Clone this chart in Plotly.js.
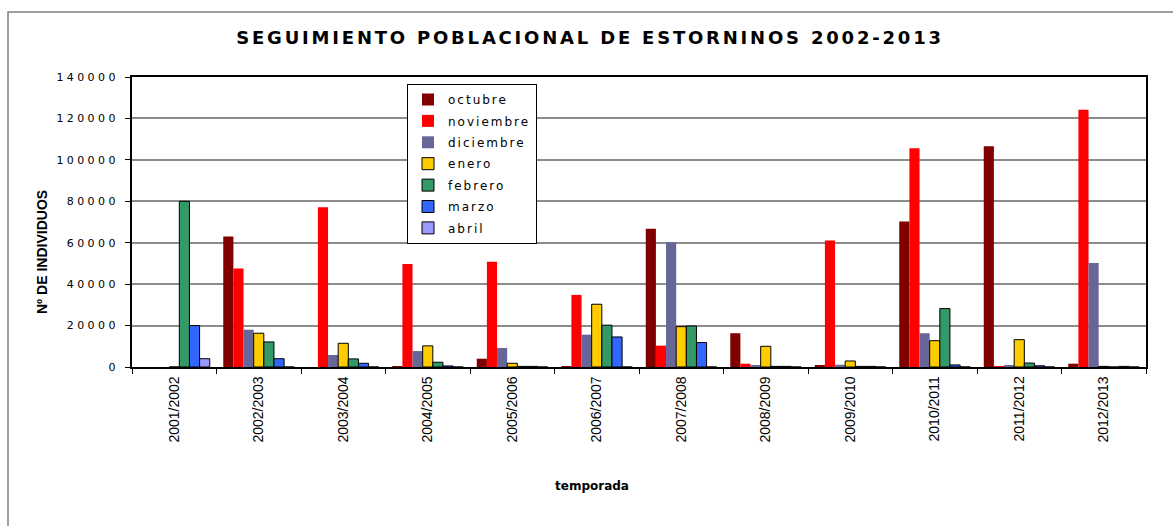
<!DOCTYPE html>
<html>
<head>
<meta charset="utf-8">
<script src="https://cdn.plot.ly/plotly-3.0.1.min.js"></script>
<style>
  html, body { margin: 0; padding: 0; background: #fff; }
  #chart { width: 1173px; height: 526px; }
  .gtitle { letter-spacing: 2.8px; }
  .ytick text { letter-spacing: 3.4px; }
  .legendtext { letter-spacing: 2px; }
</style>
</head>
<body>
<div id="chart"></div>
<script>
// ---- data ----
const temporadas = ["2001/2002","2002/2003","2003/2004","2004/2005","2005/2006","2006/2007",
                    "2007/2008","2008/2009","2009/2010","2010/2011","2011/2012","2012/2013"];
const octubre   = [0, 63000, 0, 400, 4000, 300, 66800, 16300, 600, 70300, 106600, 1600];
const noviembre = [0, 47600, 77100, 49700, 50800, 34800, 10300, 1600, 61100, 105600, 300, 124200];
const diciembre = [0, 18000, 5800, 7700, 9200, 15600, 60200, 500, 1100, 16300, 600, 50200];
const enero     = [0, 16300, 11450, 10200, 1800, 30300, 19500, 10000, 2900, 12700, 13200, 300];
const febrero   = [80000, 12100, 3900, 2300, 300, 20200, 19800, 300, 300, 28200, 1900, 0];
const marzo     = [20000, 4000, 1800, 500, 300, 14500, 11800, 300, 300, 1000, 600, 300];
const abril     = [4000, 0, 0, 0, 0, 0, 0, 0, 0, 0, 0, 0];
const yTicks    = [0, 20000, 40000, 60000, 80000, 100000, 120000, 140000];
const yTitle    = "Nº DE INDIVIDUOS";
const xTitle    = "temporada";

const series = [
  {name: "octubre",   y: octubre,   color: "#800000", border: false},
  {name: "noviembre", y: noviembre, color: "#FF0000", border: false},
  {name: "diciembre", y: diciembre, color: "#666699", border: false},
  {name: "enero",     y: enero,     color: "#FFCC00", border: true},
  {name: "febrero",   y: febrero,   color: "#339966", border: true},
  {name: "marzo",     y: marzo,     color: "#3366FF", border: true},
  {name: "abril",     y: abril,     color: "#9999FF", border: true}
];

const traces = series.map(s => ({
  type: "bar",
  name: s.name,
  x: temporadas,
  y: s.y,
  legendgroup: s.name,
  marker: {color: s.color, line: {color: "#000", width: s.border ? 1 : 0}},
  hoverinfo: "x+y+name"
}));

// plot area in px: left 132, right 1146, top 77, bottom 367
const L = 132, R = 27, T = 77, B = 159;
const W = 1173 - L - R, H = 526 - T - B;
const px2fx = p => (p - L) / W;
const py2fy = p => (526 - B - p) / H;

const layout = {
  width: 1173, height: 526,
  margin: {l: L, r: R, t: T, b: B},
  paper_bgcolor: "#fff", plot_bgcolor: "#fff",
  barmode: "group", bargap: 0.16, bargroupgap: 0,
  showlegend: true,
  title: {
    text: "SEGUIMIENTO POBLACIONAL DE ESTORNINOS 2002-2013",
    font: {family: "DejaVu Sans", size: 18, color: "#000", weight: "bold"},
    xref: "container", x: 0.503, xanchor: "center",
    yref: "container", y: 1 - 38/526, yanchor: "middle"
  },
  xaxis: {
    type: "category",
    showline: true, linecolor: "#000", linewidth: 1.5, mirror: true,
    ticks: "outside", tickson: "boundaries", ticklen: 5, tickcolor: "#000", tickwidth: 1,
    tickangle: -90,
    tickfont: {family: "Liberation Sans", size: 14, color: "#000"},
    ticklabelstandoff: 2,
    showgrid: false, zeroline: false
  },
  yaxis: {
    range: [0, 140000], tickvals: yTicks, ticktext: yTicks.map(String),
    showline: true, linecolor: "#000", linewidth: 2, mirror: true,
    ticks: "outside", ticklen: 5, tickcolor: "#000", tickwidth: 1,
    tickfont: {family: "DejaVu Sans", size: 11, color: "#000"},
    ticklabelstandoff: 4,
    showgrid: true, gridcolor: "#8c8c8c", gridwidth: 1.5,
    zeroline: false
  },
  legend: {
    x: px2fx(407), y: py2fy(84), xanchor: "left", yanchor: "top",
    bgcolor: "#fff", bordercolor: "#000", borderwidth: 1,
    font: {family: "DejaVu Sans", size: 12, color: "#000"},
    tracegroupgap: 2.4, itemwidth: 30, traceorder: "grouped"
  },
  annotations: [
    {text: yTitle, textangle: -90, xref: "paper", yref: "paper",
     x: px2fx(42), y: py2fy(252), xanchor: "center", yanchor: "middle", showarrow: false,
     font: {family: "Liberation Sans", size: 14, color: "#000", weight: "bold"}},
    {text: xTitle, xref: "paper", yref: "paper",
     x: px2fx(592), y: py2fy(486), xanchor: "center", yanchor: "middle", showarrow: false,
     font: {family: "DejaVu Sans", size: 12, color: "#000", weight: "bold"}}
  ],
  shapes: [{
    type: "rect", xref: "paper", yref: "paper", layer: "below",
    x0: px2fx(8), x1: px2fx(1185), y0: py2fy(540), y1: py2fy(12),
    line: {color: "#808080", width: 1.5}, fillcolor: "rgba(0,0,0,0)"
  }]
};

Plotly.newPlot("chart", traces, layout, {displayModeBar: false});
</script>
</body>
</html>
